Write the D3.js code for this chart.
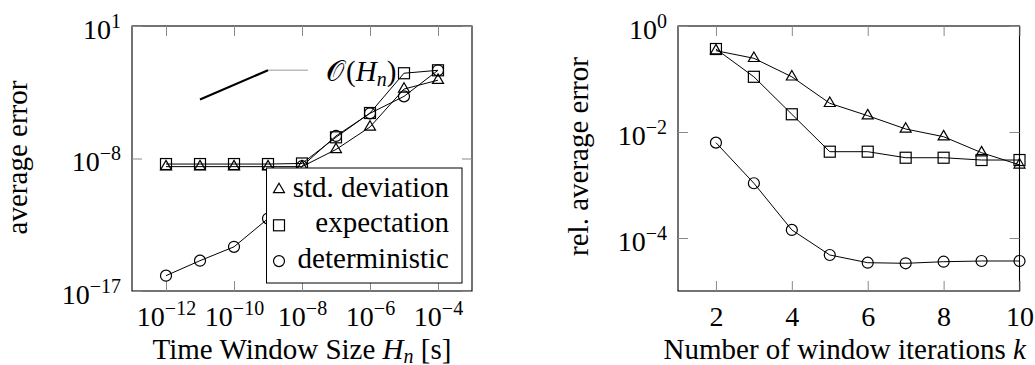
<!DOCTYPE html>
<html><head><meta charset="utf-8">
<script src="https://cdn.jsdelivr.net/npm/d3@7"></script>
</head><body style="margin:0;background:#fff">
<svg id="c" width="1035" height="365"></svg>
<script>
// ---------- data ----------
const leftX = [1e-12,1e-11,1e-10,1e-9,1e-8,1e-7,1e-6,1e-5,1e-4];
const leftStd = [2.8e-9,2.8e-9,2.8e-9,2.8e-9,2.8e-9,4.1e-8,1.38e-6,5.2e-4,2.1e-3];
const leftExp = [4.2e-9,4.2e-9,4.2e-9,4.2e-9,4.6e-9,2.75e-7,1.23e-5,6.2e-3,9.8e-3];
const leftDet = [1.1e-16,1.15e-15,1.0e-14,8.3e-13,3e-9,3.4e-7,1.17e-5,1.66e-4,9.8e-3];
const slopeX = [1e-11,1e-9];
const slopeY = [1e-4,1e-2];
const slopeLabel = "𝒪";

const rightX = [2,3,4,5,6,7,8,9,10];
const rightStd = [0.342,0.246,0.110,0.0348,0.0203,0.0114,0.00815,0.00407,0.0024];
const rightExp = [0.368,0.110,0.0216,0.00425,0.00425,0.00327,0.00327,0.00296,0.00296];
const rightDet = [0.0063,0.00108,1.42e-4,4.78e-5,3.42e-5,3.33e-5,3.57e-5,3.68e-5,3.68e-5];

const leftXTicks = [1e-12,1e-10,1e-8,1e-6,1e-4];
const leftYTicks = [1e1,1e-8,1e-17];
const rightXTicks = [2,4,6,8,10];
const rightYTicks = [1,1e-2,1e-4];
const legendLabels = ["std. deviation","expectation","deterministic"];
const markerTypes = ["triangle","square","circle"];

// ---------- layout ----------
const SERIF = "Liberation Serif";
const L = {l:132, r:472, t:26, b:291};
const R = {l:678, r:1019.5, t:26, b:291};
const FS = 28, TFS = 29, SUPFS = 20, TICK = 10;

const svg = d3.select("#c");

const lx = d3.scaleLog().domain([1e-13,1e-3]).range([L.l,L.r]);
const ly = d3.scaleLog().domain([1e-17,1e1]).range([L.b,L.t]);
const rx = d3.scaleLinear().domain([1,10]).range([R.l,R.r]);
const ry = d3.scaleLog().domain([1e-5,1]).range([R.b,R.t]);

function txt(parent){ return parent.append("text").attr("font-family",SERIF).attr("fill","#000"); }

function pow10(sel, v){
  const e = Math.round(Math.log10(v));
  sel.text(null);
  sel.append("tspan").attr("font-family",SERIF).text("10");
  sel.append("tspan").attr("font-family",SERIF).attr("font-size",SUPFS).attr("dy",-11).text(e<0?"\u2212"+(-e):String(e));
}

function drawAxes(box, x, y, xt, yt, xLog){
  const g = svg.append("g");
  const tickStyle = s => { s.attr("font-family",SERIF); s.select(".domain").remove(); s.selectAll(".tick line").attr("stroke","#8a8a8a").attr("stroke-width",1); };
  const gb = g.append("g").attr("transform",`translate(0,${box.b})`)
    .call(d3.axisBottom(x).tickValues(xt).tickSizeInner(-TICK).tickSizeOuter(0));
  tickStyle(gb);
  gb.selectAll(".tick text").attr("y",35).attr("dy",null).attr("font-size",FS)
    .attr("font-family",SERIF).attr("fill","#000")
    .each(function(d){ if(xLog) pow10(d3.select(this),d); else d3.select(this).text(d); });
  const gt = g.append("g").attr("transform",`translate(0,${box.t})`)
    .call(d3.axisTop(x).tickValues(xt).tickSizeInner(-TICK).tickSizeOuter(0).tickFormat(""));
  tickStyle(gt);
  const gl = g.append("g").attr("transform",`translate(${box.l},0)`)
    .call(d3.axisLeft(y).tickValues(yt).tickSizeInner(-TICK).tickSizeOuter(0));
  tickStyle(gl);
  gl.selectAll(".tick text").attr("x",-11).attr("dy",null).attr("y",12).attr("font-size",FS)
    .attr("font-family",SERIF).attr("fill","#000").attr("text-anchor","end")
    .each(function(d){ pow10(d3.select(this),d); });
  const gr = g.append("g").attr("transform",`translate(${box.r},0)`)
    .call(d3.axisRight(y).tickValues(yt).tickSizeInner(-TICK).tickSizeOuter(0).tickFormat(""));
  tickStyle(gr);
}

function marker(g, type, cx, cy){
  if(type==="circle"){
    g.append("circle").attr("cx",cx).attr("cy",cy).attr("r",5.5)
      .attr("fill","none").attr("stroke","#000").attr("stroke-width",1.2);
  } else if(type==="square"){
    g.append("rect").attr("x",cx-5.5).attr("y",cy-5.5).attr("width",11).attr("height",11)
      .attr("fill","none").attr("stroke","#000").attr("stroke-width",1.2);
  } else {
    g.append("path").attr("d",`M${cx},${cy-6.3}L${cx+5.5},${cy+3.2}L${cx-5.5},${cy+3.2}Z`)
      .attr("fill","none").attr("stroke","#000").attr("stroke-width",1.2);
  }
}

function series(xs, ys, x, y, type){
  const g = svg.append("g");
  const line = d3.line().x((d,i)=>x(xs[i])).y(d=>y(d));
  g.append("path").attr("d",line(ys)).attr("fill","none").attr("stroke","#000").attr("stroke-width",1);
  ys.forEach((v,i)=>marker(g,type,x(xs[i]),y(v)));
}

[L,R].forEach(b=>svg.append("rect").attr("x",b.l).attr("y",b.t).attr("width",b.r-b.l).attr("height",b.b-b.t)
  .attr("fill","none").attr("stroke","#000").attr("stroke-width",1.1));

drawAxes(L, lx, ly, leftXTicks, leftYTicks, true);
drawAxes(R, rx, ry, rightXTicks, rightYTicks, false);

// slope annotation
svg.append("line").attr("x1",lx(slopeX[0])).attr("y1",ly(slopeY[0])).attr("x2",lx(slopeX[1])).attr("y2",ly(slopeY[1]))
  .attr("stroke","#000").attr("stroke-width",2.2);
svg.append("line").attr("x1",lx(slopeX[1])).attr("y1",ly(slopeY[1])).attr("x2",lx(slopeX[1])+40).attr("y2",ly(slopeY[1]))
  .attr("stroke","#9a9a9a").attr("stroke-width",1);
const ann = txt(svg).attr("x",lx(slopeX[1])+58).attr("y",ly(slopeY[1])+11).attr("font-size",TFS);
ann.append("tspan").attr("font-family",SERIF).attr("font-size",TFS).text(slopeLabel);
ann.append("tspan").attr("font-family",SERIF).attr("dx",2).text("(");
ann.append("tspan").attr("font-family",SERIF).attr("font-style","italic").text("H");
ann.append("tspan").attr("font-family",SERIF).attr("font-style","italic").attr("font-size",SUPFS).attr("dy",5).text("n");
ann.append("tspan").attr("font-family",SERIF).attr("dy",-5).text(")");

series(leftX, leftStd, lx, ly, "triangle");
series(leftX, leftExp, lx, ly, "square");
series(leftX, leftDet, lx, ly, "circle");

series(rightX, rightStd, rx, ry, "triangle");
series(rightX, rightExp, rx, ry, "square");
series(rightX, rightDet, rx, ry, "circle");

// legend
const lg = svg.append("g");
const lgBox = {x:266.5, y:168, w:L.r-10-266.5, h:L.b-8-168};
lg.append("rect").attr("x",lgBox.x).attr("y",lgBox.y).attr("width",lgBox.w).attr("height",lgBox.h)
  .attr("fill","#fff").attr("stroke","#000").attr("stroke-width",1);
legendLabels.forEach((t,i)=>{
  const by = 196.5 + i*35.8;
  marker(lg, markerTypes[i], 279, by-7);
  txt(lg).attr("x",449).attr("y",by).attr("text-anchor","end").attr("font-size",TFS).text(t);
});

// axis titles
const t1 = txt(svg).attr("x",(L.l+L.r)/2).attr("y",359).attr("text-anchor","middle").attr("font-size",TFS);
t1.append("tspan").attr("font-family",SERIF).text("Time Window Size ");
t1.append("tspan").attr("font-family",SERIF).attr("font-style","italic").text("H");
t1.append("tspan").attr("font-family",SERIF).attr("font-style","italic").attr("font-size",SUPFS).attr("dy",4).text("n");
t1.append("tspan").attr("font-family",SERIF).attr("dy",-4).text(" [s]");

const t2 = txt(svg).attr("x",(R.l+R.r)/2 - 4).attr("y",359).attr("text-anchor","middle").attr("font-size",TFS);
t2.append("tspan").attr("font-family",SERIF).text("Number of window iterations ");
t2.append("tspan").attr("font-family",SERIF).attr("font-style","italic").text("k");

txt(svg).attr("transform",`translate(27,${(L.t+L.b)/2 - 1}) rotate(-90)`).attr("text-anchor","middle")
  .attr("font-size",TFS).text("average error");
txt(svg).attr("transform",`translate(588,${(R.t+R.b)/2 - 2}) rotate(-90)`).attr("text-anchor","middle")
  .attr("font-size",TFS).text("rel. average error");
</script></body></html>
